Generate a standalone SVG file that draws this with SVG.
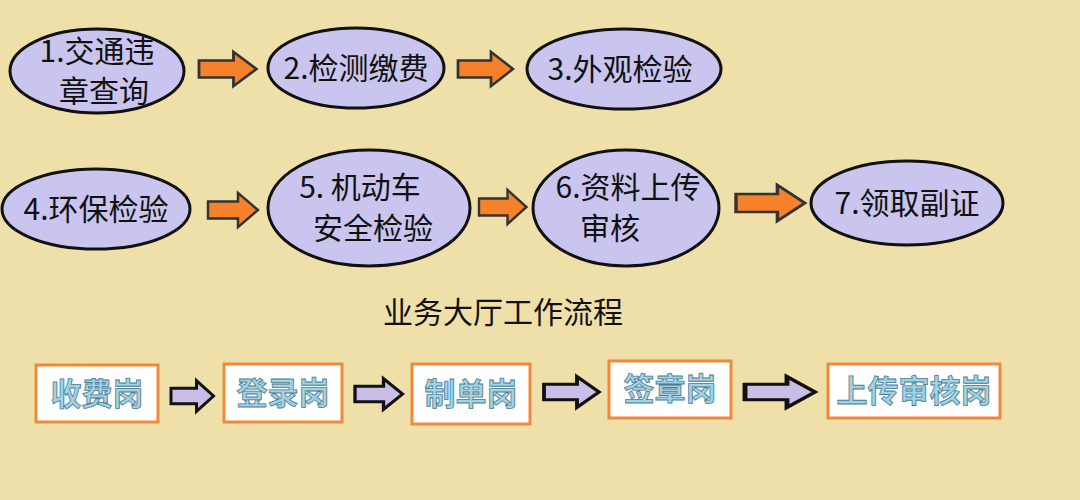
<svg xmlns="http://www.w3.org/2000/svg" width="1080" height="500" viewBox="0 0 1080 500">
<style>
.e{fill:#C9C5EE;stroke:#111;stroke-width:3}
.t{font-family:"Noto Sans CJK SC","Liberation Sans",sans-serif;font-size:30px;fill:#111;text-anchor:middle}
.oa{fill:#F5812A;stroke:#333;stroke-width:2.5;stroke-linejoin:miter}
.pa{fill:#C9BEE6;stroke:#111;stroke-width:3.5}
.b{fill:#fff;stroke:#F08A3A;stroke-width:3}
.bt{font-family:"Noto Sans CJK SC",sans-serif;font-size:31px;font-weight:bold;fill:#9FD3E6;stroke:#4A7A90;stroke-width:0.8;text-anchor:middle}
</style>
<defs>
<path id="ar" d="M0,-9 H30 V-18 L50,0 L30,18 V9 H0 Z"/>
</defs>
<rect width="1080" height="500" fill="#EFE0AA"/>
<g id="connectors">
<use href="#ar" class="oa" transform="translate(199,69) scale(1.15,0.95)"/>
<use href="#ar" class="oa" transform="translate(458,69) scale(1.1,0.95)"/>
<use href="#ar" class="oa" transform="translate(208,210) scale(1.0,0.95)"/>
<use href="#ar" class="oa" transform="translate(479,207) scale(0.95,0.95)"/>
<use href="#ar" class="oa" transform="translate(736,203) scale(1.38,1.0)"/>
<use href="#ar" class="pa" transform="translate(171,396) scale(0.85,0.85)"/>
<use href="#ar" class="pa" transform="translate(355,394) scale(0.95,0.85)"/>
<use href="#ar" class="pa" transform="translate(544,392) scale(1.1,0.85)"/>
<use href="#ar" class="pa" transform="translate(745,392) scale(1.4,0.85)"/>
</g>
<g id="n1"><ellipse class="e" cx="97" cy="71" rx="87" ry="42"/><text class="t" x="97" y="62">1.交通违</text><text class="t" x="104" y="102">章查询</text></g>
<g id="n2"><ellipse class="e" cx="356" cy="68" rx="88" ry="40"/><text class="t" x="356" y="79">2.检测缴费</text></g>
<g id="n3"><ellipse class="e" cx="624" cy="69" rx="97" ry="40"/><text class="t" x="620" y="80">3.外观检验</text></g>
<g id="n4"><ellipse class="e" cx="96" cy="209" rx="94" ry="40"/><text class="t" x="96" y="220">4.环保检验</text></g>
<g id="n5"><ellipse class="e" cx="369" cy="208" rx="101" ry="58"/><text class="t" x="360" y="198">5. 机动车</text><text class="t" x="373" y="239">安全检验</text></g>
<g id="n6"><ellipse class="e" cx="626" cy="208" rx="93" ry="58"/><text class="t" x="628" y="198">6.资料上传</text><text class="t" x="610" y="239">审核</text></g>
<g id="n7"><ellipse class="e" cx="907" cy="203" rx="96" ry="42"/><text class="t" x="907" y="214">7.领取副证</text></g>
<text class="t" x="503" y="323">业务大厅工作流程</text>
<g id="b1"><rect class="b" x="36" y="365" width="122" height="57"/><text class="bt" x="97" y="405">收费岗</text></g>
<g id="b2"><rect class="b" x="224" y="364" width="118" height="58"/><text class="bt" x="283" y="404">登录岗</text></g>
<g id="b3"><rect class="b" x="412" y="364" width="118" height="60"/><text class="bt" x="471" y="405">制单岗</text></g>
<g id="b4"><rect class="b" x="609" y="361" width="122" height="57"/><text class="bt" x="670" y="400">签章岗</text></g>
<g id="b5"><rect class="b" x="828" y="364" width="172" height="54"/><text class="bt" x="914" y="402">上传审核岗</text></g>
</svg>
